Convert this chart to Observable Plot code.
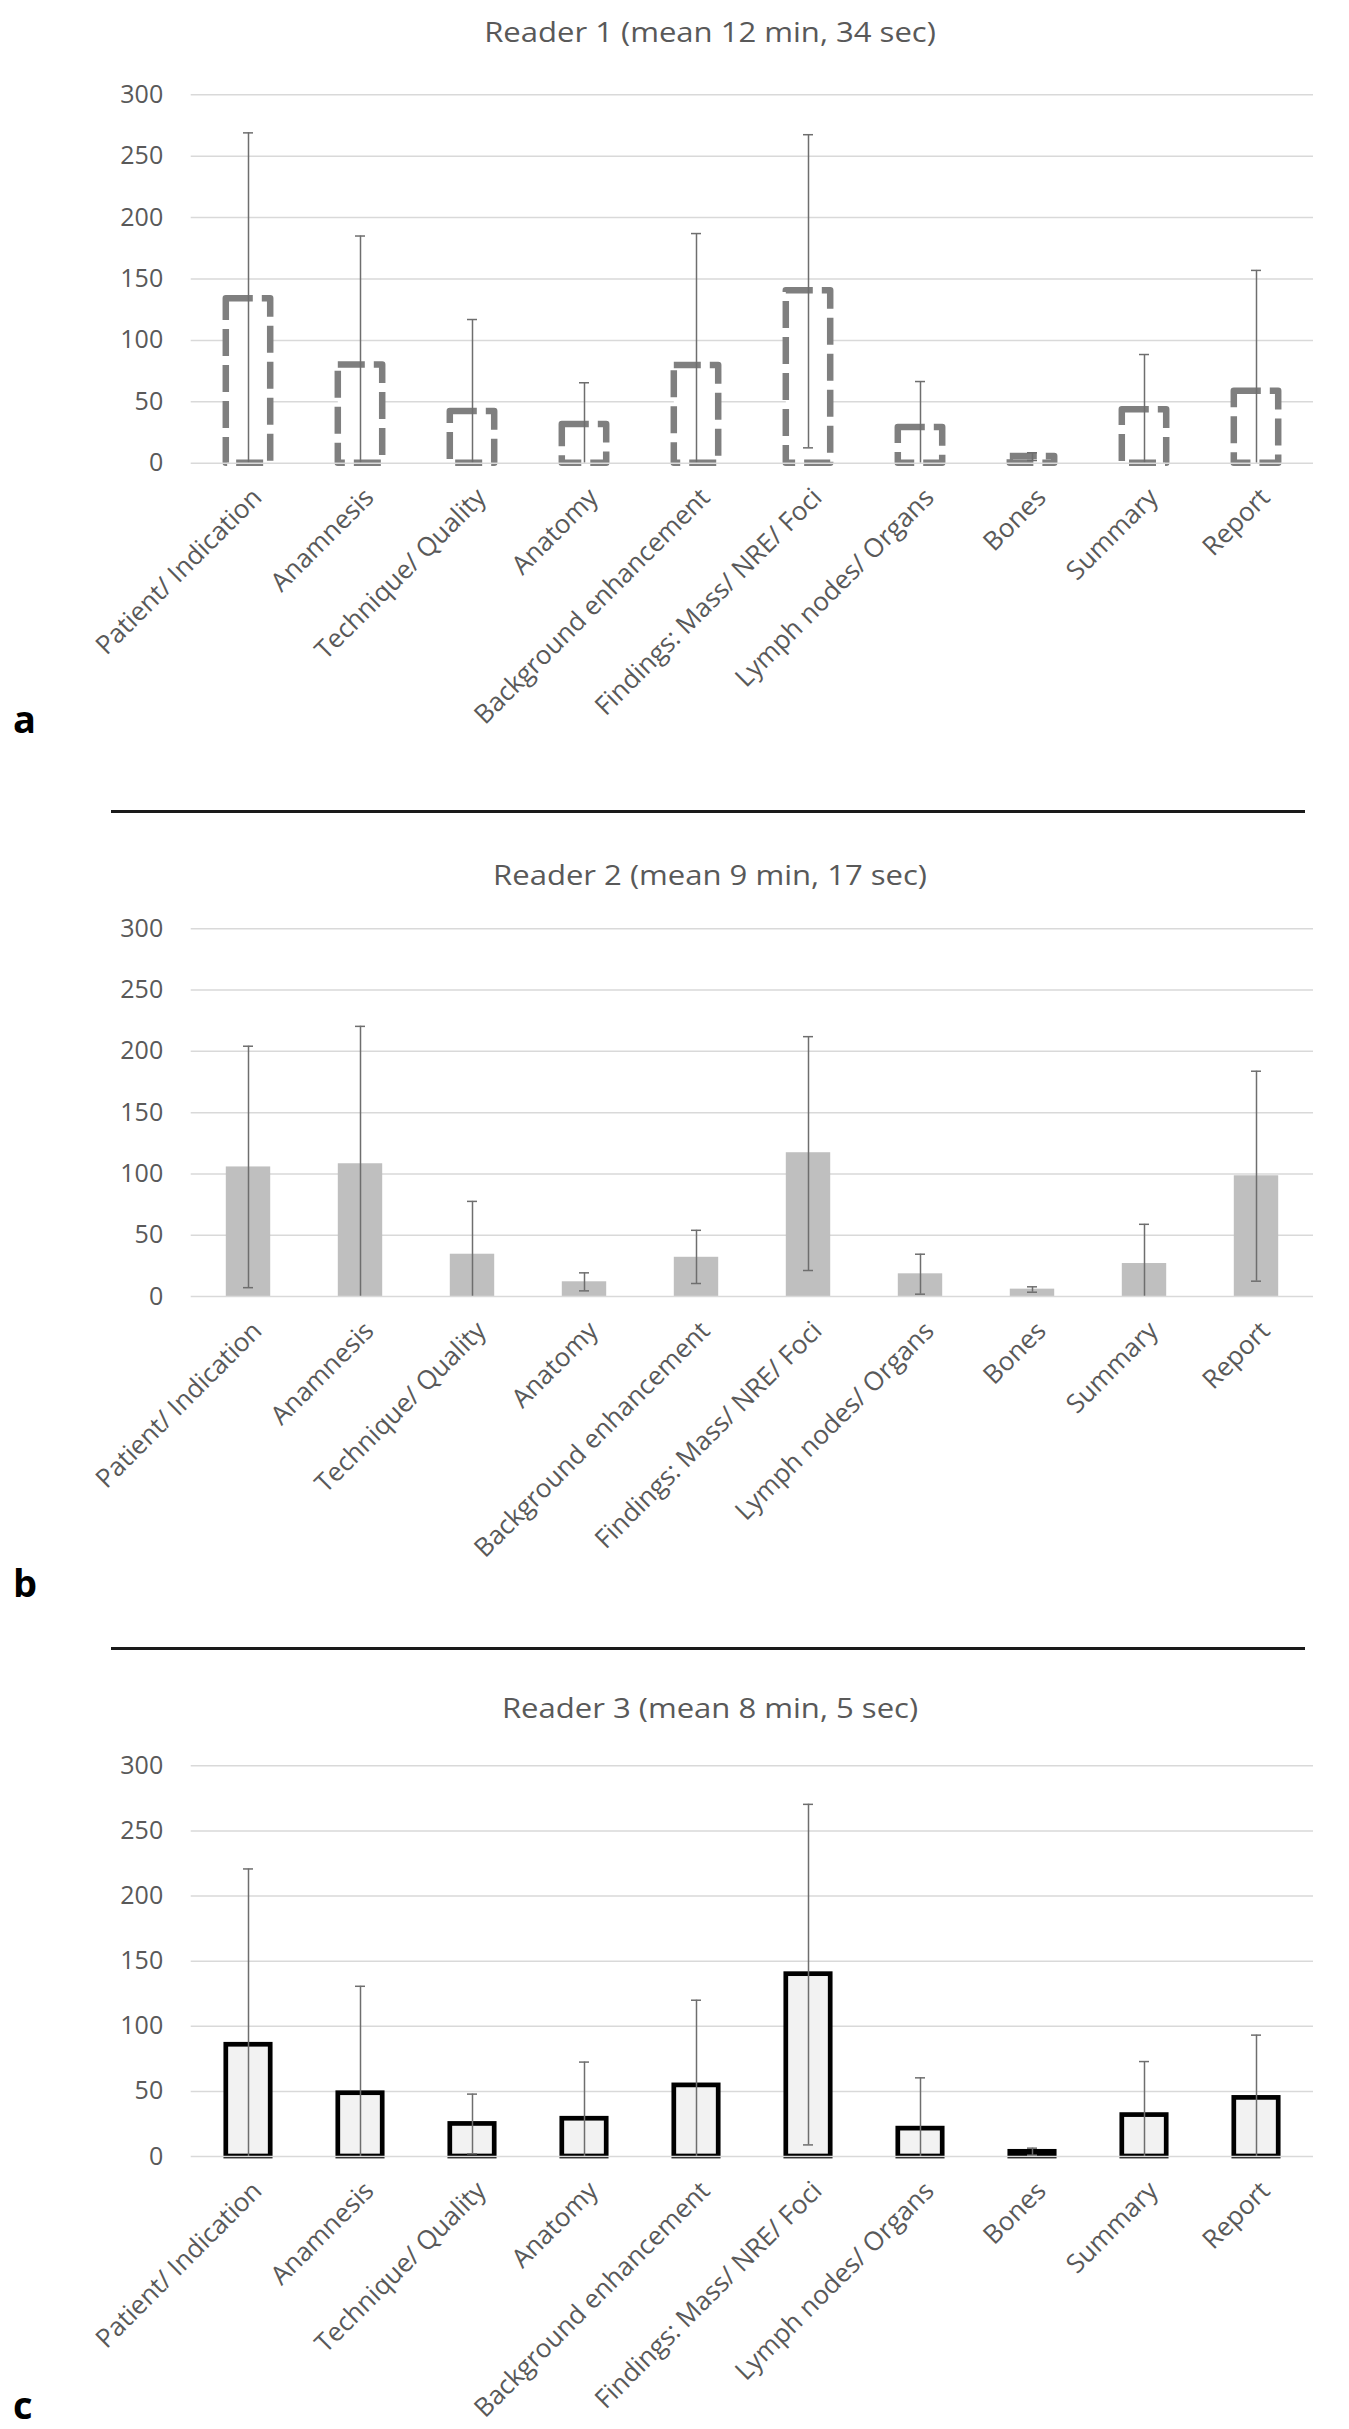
<!DOCTYPE html>
<html>
<head>
<meta charset="utf-8">
<script src="https://cdn.jsdelivr.net/npm/d3@7"></script>
<script src="https://cdn.jsdelivr.net/npm/@observablehq/plot@0.6"></script>
<style>
  html, body { margin: 0; padding: 0; background: #ffffff; }
  #figure { position: relative; width: 1349px; height: 2429px; overflow: hidden; font-family: "Open Sans", sans-serif; }
  .panel { position: absolute; left: 0; }
  .title {
    position: absolute; left: 410px; width: 600px; text-align: center;
    font-size: 27px; line-height: 27px; color: #595959; white-space: nowrap;
    transform: scaleX(1.15); transform-origin: 50% 50%;
  }
  .letter { position: absolute; left: 13px; font-size: 38px; line-height: 38px; font-weight: 700; color: #000; }
  .divider { position: absolute; left: 111px; width: 1194px; height: 3px; background: #1a1a1a; }
</style>
</head>
<body>
<div id="figure"></div>
<script>
// Report sections timed for each reader (seconds)
const categories = [
  "Patient/ Indication", "Anamnesis", "Technique/ Quality", "Anatomy",
  "Background enhancement", "Findings: Mass/ NRE/ Foci", "Lymph nodes/ Organs",
  "Bones", "Summary", "Report"
];
const yTicks = [0, 50, 100, 150, 200, 250, 300];

// Reader 1: mean time per section with error-bar ends
const reader1Mean = [134, 80, 42, 31.5, 79.5, 140.5, 29, 5.5, 43.5, 58.5];
const reader1Low  = [0, 0, 0, 0, 0, 12.5, 0, 2.2, 0, 0];
const reader1High = [269, 185, 117, 65.5, 187, 267.5, 66.5, 8.5, 88.5, 157];

// Reader 2
const reader2Mean = [105.7, 108.3, 34.5, 12, 32, 117.3, 18.5, 6, 26.9, 98.5];
const reader2Low  = [7.2, 0, 0, 4.6, 10.6, 21.2, 1.9, 3.5, 0, 12.5];
const reader2High = [204.2, 220.4, 77.6, 19.3, 54, 212, 34.5, 7.9, 58.9, 183.8];

// Reader 3
const reader3Mean = [85.8, 48.6, 25, 29, 54.6, 140, 21.4, 3.6, 31.8, 45];
const reader3Low  = [0, 0, 2.1, 0, 0, 8.9, 0, 1, 0, 0];
const reader3High = [220.8, 130.7, 47.9, 72.5, 120, 270.4, 60.4, 6.4, 72.9, 93.2];

const panels = [
  {
    letter: "a", title: "Reader 1 (mean 12 min, 34 sec)",
    mean: reader1Mean, low: reader1Low, high: reader1High,
    svgTop: 60, height: 740, marginTop: 34.3, marginBottom: 337.3,
    titleTop: 17.7, letterTop: 699,
    bar: { fill: "#ffffff", stroke: "#7f7f7f", strokeWidth: 6.5, strokeDasharray: "27,9", strokeLinejoin: "round" }
  },
  {
    letter: "b", title: "Reader 2 (mean 9 min, 17 sec)",
    mean: reader2Mean, low: reader2Low, high: reader2High,
    svgTop: 895, height: 740, marginTop: 33.3, marginBottom: 339,
    titleTop: 861, letterTop: 1563,
    bar: { fill: "#bfbfbf" }
  },
  {
    letter: "c", title: "Reader 3 (mean 8 min, 5 sec)",
    mean: reader3Mean, low: reader3Low, high: reader3High,
    svgTop: 1730, height: 699, marginTop: 35.3, marginBottom: 273,
    titleTop: 1694.3, letterTop: 2385,
    bar: { fill: "#f2f2f2", stroke: "#000000", strokeWidth: 4.7 }
  }
];
const dividerTops = [810.2, 1646.8];

const figure = document.getElementById("figure");
const errColor = "#6e6e6e";

function drawPanel(p) {
  const rows = categories.map((c, i) => ({ category: c, mean: p.mean[i], low: p.low[i], high: p.high[i] }));
  const chart = Plot.plot({
    width: 1349,
    height: p.height,
    marginLeft: 190.7,
    marginRight: 36,
    marginTop: p.marginTop,
    marginBottom: p.marginBottom,
    style: { fontFamily: '"Open Sans", sans-serif', color: "#595959", background: "transparent", overflow: "visible" },
    x: { domain: categories, padding: 0, label: null },
    y: { domain: [0, 300], label: null },
    marks: [
      Plot.ruleY(yTicks.filter((d) => d > 0), { stroke: "#d9d9d9", strokeWidth: 1.5 }),
      Plot.barY(rows, { x: "category", y: "mean", insetLeft: 33.8, insetRight: 33.8, ...p.bar }),
      Plot.ruleX(rows, { x: "category", y1: "low", y2: "high", stroke: errColor, strokeWidth: 1.5 }),
      Plot.tickY(rows, { x: "category", y: "high", stroke: errColor, strokeWidth: 1.5, insetLeft: 51, insetRight: 51 }),
      Plot.tickY(rows.filter((d) => d.low > 0), { x: "category", y: "low", stroke: errColor, strokeWidth: 1.5, insetLeft: 51, insetRight: 51 }),
      Plot.ruleY([0], { stroke: "#d9d9d9", strokeWidth: 1.5 }),
      Plot.axisY({ ticks: yTicks, tickSize: 0, tickPadding: 28, fontSize: 25, label: null }),
      Plot.axisX({ tickSize: 0, tickRotate: -45, tickPadding: 30, dx: 9, textAnchor: "end", lineAnchor: "middle", fontSize: 26, label: null })
    ]
  });
  const holder = document.createElement("div");
  holder.className = "panel";
  holder.style.top = p.svgTop + "px";
  holder.appendChild(chart);
  figure.appendChild(holder);

  const title = document.createElement("div");
  title.className = "title";
  title.style.top = p.titleTop + "px";
  title.textContent = p.title;
  figure.appendChild(title);

  const letter = document.createElement("div");
  letter.className = "letter";
  letter.style.top = p.letterTop + "px";
  letter.textContent = p.letter;
  figure.appendChild(letter);
}

panels.forEach(drawPanel);
dividerTops.forEach((t) => {
  const d = document.createElement("div");
  d.className = "divider";
  d.style.top = t + "px";
  figure.appendChild(d);
});
</script>
</body>
</html>
